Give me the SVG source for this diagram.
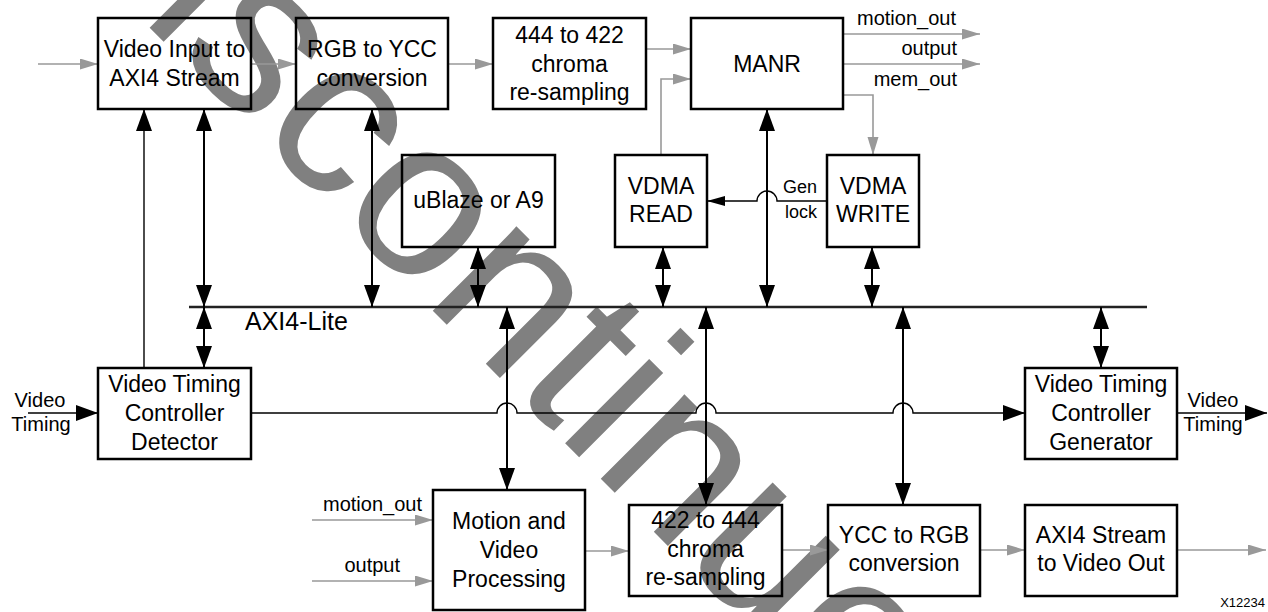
<svg xmlns="http://www.w3.org/2000/svg" width="1268" height="612" viewBox="0 0 1268 612">
  <style>
    text { font-family: "Liberation Sans", Arial, Helvetica, sans-serif; fill: #000; }
    .box rect { fill: none; stroke: #000; stroke-width: 2.5; }
    .box text { font-size: 23px; text-anchor: middle; }
    .lbl { font-size: 20px; }
    .ctl { fill: none; stroke: #000; stroke-width: 2; }
    .thin { fill: none; stroke: #000; stroke-width: 1.4; }
    .data { fill: none; stroke: #999; stroke-width: 1.6; }
    .bus { fill: none; stroke: #222; stroke-width: 2.6; }
    .wm { font-size: 225px; fill: #808080; }
  </style>
  <defs>
    <marker id="hd" markerUnits="userSpaceOnUse" markerWidth="24" markerHeight="18" refX="22" refY="8" orient="auto-start-reverse">
      <path d="M0,0 L22,8 L0,16 Z" fill="#000"/>
    </marker>
    <marker id="hs" markerUnits="userSpaceOnUse" markerWidth="20" markerHeight="12" refX="18" refY="5" orient="auto-start-reverse">
      <path d="M0,0 L18,5 L0,10 Z" fill="#000"/>
    </marker>
    <marker id="hg" markerUnits="userSpaceOnUse" markerWidth="20" markerHeight="12" refX="18" refY="5.5" orient="auto">
      <path d="M0,0 L18,5.5 L0,11 Z" fill="#999"/>
    </marker>
  </defs>

  <!-- background stamp -->
  <text class="wm" transform="translate(24,-98) rotate(45)">Discontinued</text>

  <!-- AXI4-Lite bus -->
  <g id="axi4-lite-bus">
    <line class="bus" x1="189" y1="307" x2="1147" y2="307"/>
    <text x="245" y="330" font-size="25">AXI4-Lite</text>
  </g>

  <!-- connectors -->
  <g id="connectors">
    <!-- video data path (grey) -->
    <line class="data" x1="38" y1="64" x2="98" y2="64" marker-end="url(#hg)"/>
    <line class="data" x1="251" y1="64" x2="296" y2="64" marker-end="url(#hg)"/>
    <line class="data" x1="448" y1="64" x2="493" y2="64" marker-end="url(#hg)"/>
    <line class="data" x1="646" y1="49" x2="691" y2="49" marker-end="url(#hg)"/>
    <path class="data" d="M661,155 V79 H691" marker-end="url(#hg)"/>
    <line class="data" x1="843" y1="34" x2="980" y2="34" marker-end="url(#hg)"/>
    <line class="data" x1="843" y1="64" x2="980" y2="64" marker-end="url(#hg)"/>
    <path class="data" d="M843,95 H873 V155" marker-end="url(#hg)"/>
    <line class="data" x1="312" y1="520" x2="433" y2="520" marker-end="url(#hg)"/>
    <line class="data" x1="312" y1="581" x2="433" y2="581" marker-end="url(#hg)"/>
    <line class="data" x1="585" y1="551" x2="629" y2="551" marker-end="url(#hg)"/>
    <line class="data" x1="782" y1="550" x2="828" y2="550" marker-end="url(#hg)"/>
    <line class="data" x1="980" y1="550" x2="1025" y2="550" marker-end="url(#hg)"/>
    <line class="data" x1="1177" y1="550" x2="1266" y2="550" marker-end="url(#hg)"/>

    <!-- control connections above the bus -->
    <line class="thin" x1="144" y1="368" x2="144" y2="109" marker-end="url(#hd)"/>
    <line class="ctl" x1="204" y1="307" x2="204" y2="109" marker-start="url(#hd)" marker-end="url(#hd)"/>
    <line class="ctl" x1="372" y1="307" x2="372" y2="109" marker-start="url(#hd)" marker-end="url(#hd)"/>
    <line class="ctl" x1="478" y1="307" x2="478" y2="247" marker-start="url(#hd)" marker-end="url(#hd)"/>
    <line class="ctl" x1="663" y1="307" x2="663" y2="247" marker-start="url(#hd)" marker-end="url(#hd)"/>
    <line class="ctl" x1="767" y1="307" x2="767" y2="109" marker-start="url(#hd)" marker-end="url(#hd)"/>
    <line class="ctl" x1="872" y1="307" x2="872" y2="247" marker-start="url(#hd)" marker-end="url(#hd)"/>

    <!-- genlock from VDMA WRITE to VDMA READ -->
    <path class="thin" d="M827,201 H777 A10,10 0 0 0 757,201 H707" marker-end="url(#hs)"/>

    <!-- control connections below the bus -->
    <line class="ctl" x1="204" y1="307" x2="204" y2="368" marker-start="url(#hd)" marker-end="url(#hd)"/>
    <line class="ctl" x1="507" y1="307" x2="507" y2="490" marker-start="url(#hd)" marker-end="url(#hd)"/>
    <line class="ctl" x1="706" y1="307" x2="706" y2="505" marker-start="url(#hd)" marker-end="url(#hd)"/>
    <line class="ctl" x1="903" y1="307" x2="903" y2="505" marker-start="url(#hd)" marker-end="url(#hd)"/>
    <line class="ctl" x1="1101" y1="307" x2="1101" y2="368" marker-start="url(#hd)" marker-end="url(#hd)"/>

    <!-- timing path -->
    <line class="thin" x1="28" y1="413" x2="98" y2="413" marker-end="url(#hd)"/>
    <path class="thin" d="M251,413 H497 A10,10 0 0 1 517,413 H696 A10,10 0 0 1 716,413 H893 A10,10 0 0 1 913,413 H1025" marker-end="url(#hd)"/>
    <line class="thin" x1="1177" y1="413" x2="1267" y2="413" marker-end="url(#hd)"/>
  </g>

  <!-- connector labels -->
  <g id="labels">
    <text class="lbl" x="956" y="25" text-anchor="end">motion_out</text>
    <text class="lbl" x="957" y="55" text-anchor="end">output</text>
    <text class="lbl" x="957" y="86" text-anchor="end">mem_out</text>
    <text x="800" y="193" font-size="18" text-anchor="middle">Gen</text>
    <text x="801" y="218" font-size="18" text-anchor="middle">lock</text>
    <text class="lbl" x="40" y="407" text-anchor="middle">Video</text>
    <text class="lbl" x="41" y="431" text-anchor="middle">Timing</text>
    <text class="lbl" x="1213" y="407" text-anchor="middle">Video</text>
    <text class="lbl" x="1213" y="431" text-anchor="middle">Timing</text>
    <text class="lbl" x="422" y="511" text-anchor="end">motion_out</text>
    <text class="lbl" x="400" y="572" text-anchor="end">output</text>
    <text x="1265" y="607" font-size="13" text-anchor="end">X12234</text>
  </g>

  <!-- processing blocks -->
  <g id="video-input" class="box">
    <rect x="98" y="18" width="153" height="91"/>
    <text x="174.5" y="57">Video Input to</text>
    <text x="174.5" y="86">AXI4 Stream</text>
  </g>
  <g id="rgb-to-ycc" class="box">
    <rect x="296" y="18" width="152" height="91"/>
    <text x="372" y="57">RGB to YCC</text>
    <text x="372" y="86">conversion</text>
  </g>
  <g id="chroma-444-to-422" class="box">
    <rect x="493" y="18" width="153" height="91"/>
    <text x="569.5" y="43">444 to 422</text>
    <text x="569.5" y="72">chroma</text>
    <text x="569.5" y="100">re-sampling</text>
  </g>
  <g id="manr" class="box">
    <rect x="691" y="18" width="152" height="91"/>
    <text x="767" y="72">MANR</text>
  </g>
  <g id="ublaze" class="box">
    <rect x="402" y="155" width="153" height="92"/>
    <text x="478.5" y="208">uBlaze or A9</text>
  </g>
  <g id="vdma-read" class="box">
    <rect x="615" y="155" width="92" height="92"/>
    <text x="661" y="194">VDMA</text>
    <text x="661" y="222">READ</text>
  </g>
  <g id="vdma-write" class="box">
    <rect x="827" y="155" width="92" height="92"/>
    <text x="873" y="194">VDMA</text>
    <text x="873" y="222">WRITE</text>
  </g>
  <g id="vtc-detector" class="box">
    <rect x="98" y="368" width="153" height="91"/>
    <text x="174.5" y="392">Video Timing</text>
    <text x="174.5" y="421">Controller</text>
    <text x="174.5" y="450">Detector</text>
  </g>
  <g id="vtc-generator" class="box">
    <rect x="1025" y="368" width="152" height="91"/>
    <text x="1101" y="392">Video Timing</text>
    <text x="1101" y="421">Controller</text>
    <text x="1101" y="450">Generator</text>
  </g>
  <g id="motion-video-processing" class="box">
    <rect x="433" y="490" width="152" height="120"/>
    <text x="509" y="529">Motion and</text>
    <text x="509" y="558">Video</text>
    <text x="509" y="587">Processing</text>
  </g>
  <g id="chroma-422-to-444" class="box">
    <rect x="629" y="505" width="153" height="91"/>
    <text x="705.5" y="528">422 to 444</text>
    <text x="705.5" y="557">chroma</text>
    <text x="705.5" y="585">re-sampling</text>
  </g>
  <g id="ycc-to-rgb" class="box">
    <rect x="828" y="505" width="152" height="91"/>
    <text x="904" y="543">YCC to RGB</text>
    <text x="904" y="571">conversion</text>
  </g>
  <g id="axi4-stream-to-video-out" class="box">
    <rect x="1025" y="505" width="152" height="91"/>
    <text x="1101" y="543">AXI4 Stream</text>
    <text x="1101" y="571">to Video Out</text>
  </g>
</svg>
